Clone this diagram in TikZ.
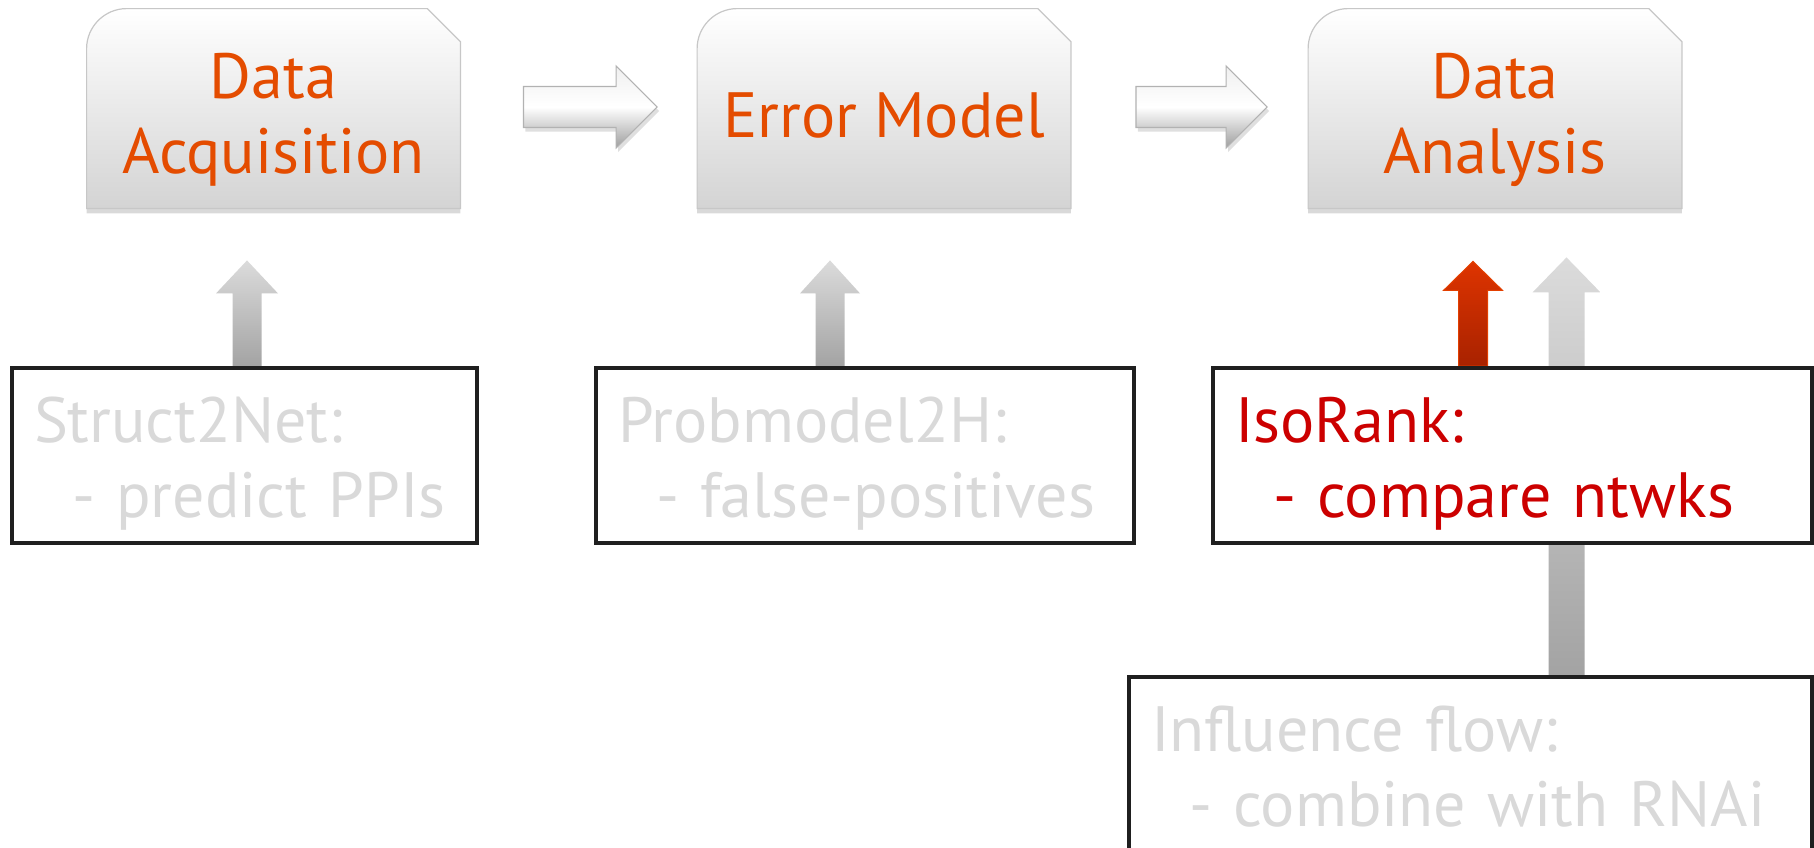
\documentclass[tikz,border=0pt]{standalone}
\usepackage{fontspec}
\setmainfont{PT Sans}
\usepackage{tikz}
\usetikzlibrary{arrows.meta,calc,backgrounds,shadows}
\definecolor{acqorange}{RGB}{228,76,0}
\definecolor{isored}{RGB}{204,0,0}
\definecolor{fadegrey}{RGB}{217,217,217}
\definecolor{liftred}{RGB}{222,52,0}
\definecolor{liftdark}{RGB}{168,34,0}

\tikzset{
  topshade/.style={top color=white,bottom color=black!17,draw=black!22,line width=0.6pt,
    drop shadow={shadow xshift=0pt,shadow yshift=-2.5pt,opacity=0.3}},
  toptext/.style={minimum width=186.5pt,inner sep=0pt,align=center,text=acqorange,
    font=\fontsize{32}{37.5}\selectfont,text height=82pt,text depth=17.5pt},
  lowbox/.style={draw=black!88,line width=2pt,fill=white,inner xsep=11pt,inner ysep=0pt,
    minimum height=87.5pt,align=left,text=fadegrey,
    font=\fontsize{32}{37.5}\selectfont,text height=37pt,text depth=50.5pt},
  flowshade/.style={top color=black!6,bottom color=black!38,middle color=white,
    draw=black!30,line width=0.6pt,
    drop shadow={shadow xshift=1pt,shadow yshift=-2pt,opacity=0.25}},
  greylift/.style={top color=black!14,bottom color=black!36},
  redlift/.style={top color=liftred,bottom color=liftdark,draw=liftred!85!orange,line width=0.5pt},
}

% block arrow pointing up: tail, tip, half shaft, half head, head length, style
\newcommand{\liftarrow}[6]{%
  \shade[#6] ($(#1)+(-#3,0)$) -- ($(#2)+(-#3,#5)$) -- ($(#2)+(-#4,#5)$) -- (#2)
    -- ($(#2)+(#4,#5)$) -- ($(#2)+(#3,#5)$) -- ($(#1)+(#3,0)$) -- cycle;}
% block arrow pointing right: tail, tip
\newcommand{\flowarrow}[2]{%
  \shade[flowshade] ($(#1)+(0,-20.5)$) -- ($(#2)+(-41,-20.5)$) -- ($(#2)+(-41,-41)$) -- (#2)
    -- ($(#2)+(-41,41)$) -- ($(#2)+(-41,20.5)$) -- ($(#1)+(0,20.5)$) -- cycle;}

\begin{document}
\begin{tikzpicture}[x=0.5pt,y=-0.5pt]
  \useasboundingbox (0,0) rectangle (1814,847);
  % pipeline stages
  \node[toptext] (da) at (273.5,108.5) {Data\\Acquisition};
  \node[toptext,text height=64pt,text depth=35.5pt] (em) at (884,108.5) {Error Model};
  \node[toptext] (dan) at (1495,108.5) {Data\\Analysis};
  % tools
  \node[lowbox,text width=210.5pt] (s2n) at (244.5,455.5)
    {Struct2Net:\\\hspace*{19pt}- predict PPIs};
  \node[lowbox,text width=247pt] (pm) at (865,455.5)
    {Probmodel2H:\\\hspace*{19pt}- false-positives};
  \node[lowbox,text width=277.5pt,text=isored] (iso) at (1512.5,455.5)
    {IsoRank:\\\hspace*{19pt}- compare ntwks};
  \node[lowbox,text width=319.5pt] (inf) at (1470.5,764.5)
    {Influence flow:\\\hspace*{19pt}- combine with RNAi};

  \begin{scope}[on background layer]
    \foreach \n in {da,em,dan}
      \shade[topshade] (\n.south west) -- ($(\n.north west)+(0,40)$)
        .. controls ($(\n.north west)+(0,18)$) and ($(\n.north west)+(18,0)$) .. ($(\n.north west)+(40,0)$)
        -- ($(\n.north east)+(-33,0)$) -- ($(\n.north east)+(0,33)$) -- (\n.south east) -- cycle;

    \coordinate (r1s) at ($(da.east)+(63,-1.5)$);
    \coordinate (r1e) at ($(em.west)+(-40,-1.5)$);
    \coordinate (r2s) at ($(em.east)+(65,-1.5)$);
    \coordinate (r2e) at ($(dan.west)+(-41,-1.5)$);
    \flowarrow{r1s}{r1e}
    \flowarrow{r2s}{r2e}

    \coordinate (u1s) at ($(s2n.north)+(2.5,0)$);
    \coordinate (u1e) at ($(u1s |- da.south)+(0,52)$);
    \coordinate (u2s) at ($(pm.north)+(-35,0)$);
    \coordinate (u2e) at ($(u2s |- em.south)+(0,52)$);
    \coordinate (u3s) at ($(iso.north)+(-39.5,0)$);
    \coordinate (u3e) at ($(u3s |- dan.south)+(0,53)$);
    \coordinate (u4s) at ($(inf.north)+(96,0)$);
    \coordinate (u4e) at ($(u4s |- dan.south)+(0,49)$);
    \liftarrow{u1s}{u1e}{14.5}{31}{33}{greylift}
    \liftarrow{u2s}{u2e}{14.5}{30}{33}{greylift}
    \liftarrow{u3s}{u3e}{14.5}{29.5}{29}{redlift}
    \liftarrow{u4s}{u4e}{18}{34}{35}{greylift}
  \end{scope}
\end{tikzpicture}
\end{document}
